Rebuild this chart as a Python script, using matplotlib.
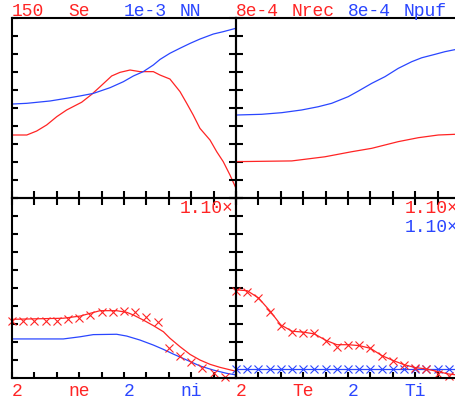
"""Four-panel profile plot (Se/NN, Nrec/Npuf, ne/ni, Te/Ti)."""

import numpy as np
import matplotlib
matplotlib.use("Agg")
import matplotlib.pyplot as plt

RED = "#ff2424"
BLUE = "#2a46ff"

# --- data (x in 0..1, y in tick divisions 0..10) ---
se_x = [0, .066, .11, .155, .2, .244, .311, .356, .393, .445, .482, .527, .571,
        .631, .661, .705, .75, .78, .809, .839, .884, .914, .943, .973, 1.0]
se_y = [3.5, 3.5, 3.72, 4.06, 4.52, 4.89, 5.32, 5.76, 6.18, 6.78, 6.98, 7.11, 7.02,
        7.02, 6.83, 6.61, 5.91, 5.26, 4.61, 3.87, 3.22, 2.57, 2.02, 1.28, 0.54]

nn_x = [0, .066, .17, .244, .304, .363, .438, .497, .542, .586, .631, .661, .705,
        .75, .795, .839, .899, .943, 1.0]
nn_y = [5.22, 5.26, 5.39, 5.54, 5.67, 5.81, 6.13, 6.46, 6.78, 7.02, 7.39, 7.7, 8.04,
        8.32, 8.59, 8.83, 9.11, 9.24, 9.43]

nrec_x = [0, .249, .397, .516, .606, .724, .814, .903, 1.0]
nrec_y = [2.02, 2.06, 2.29, 2.57, 2.76, 3.13, 3.35, 3.5, 3.55]

npuf_x = [0, .114, .204, .293, .367, .427, .501, .546, .606, .665, .724, .784,
          .829, .888, .933, 1.0]
npuf_y = [4.61, 4.65, 4.74, 4.89, 5.07, 5.26, 5.63, 5.94, 6.37, 6.74, 7.2, 7.57,
          7.79, 7.98, 8.13, 8.3]

ne_x = [0, .229, .304, .348, .393, .467, .512, .542, .586, .631, .676, .705, .75,
        .795, .839, .884, .929, .988, 1.0]
ne_y = [3.26, 3.32, 3.44, 3.59, 3.74, 3.74, 3.65, 3.5, 3.22, 2.91, 2.57, 2.21, 1.74,
        1.31, 1.0, 0.76, 0.59, 0.41, 0.35]
ne_pts = [3.18, 3.18, 3.18, 3.18, 3.18, 3.28, 3.35, 3.5, 3.65, 3.65,
          3.74, 3.65, 3.41, 3.13, 1.65, 1.22, 0.91, 0.54, 0.26, 0.07]

ni_x = [0, .229, .304, .363, .467, .512, .571, .631, .676, .72, .78, .839, .899,
        .958, 1.0]
ni_y = [2.17, 2.17, 2.29, 2.41, 2.43, 2.33, 2.11, 1.83, 1.59, 1.33, 1.0, 0.67, 0.44,
        0.26, 0.17]

te_x = [0, .05, .1, .15, .2, .25, .3, .35, .4, .45, .5, .55, .6, .65, .7, .75,
        .8, .85, .9, .95, 1.0]
te_y = [4.9, 4.85, 4.45, 3.75, 2.95, 2.6, 2.55, 2.45, 2.1, 1.85, 1.85, 1.8,
        1.65, 1.25, 0.98, 0.74, 0.58, 0.5, 0.36, 0.22, 0.15]
te_pts = [4.85, 4.79, 4.43, 3.68, 2.89, 2.57, 2.52, 2.48, 2.07, 1.74,
          1.83, 1.83, 1.65, 1.22, 0.96, 0.72, 0.57, 0.48, 0.22, 0.11]

ti_y = [0.48] * 21
ti_pts = [0.48] * 20

pts_x = [i * 0.05 for i in range(20)]

top_labels = [("150", RED), ("Se", RED), ("1e-3", BLUE), ("NN", BLUE),
              ("8e-4", RED), ("Nrec", RED), ("8e-4", BLUE), ("Npuf", BLUE)]
bottom_labels = [("2", RED), ("ne", RED), ("2", BLUE), ("ni", BLUE),
                 ("2", RED), ("Te", RED), ("2", BLUE), ("Ti", BLUE)]

W, H = 456, 403
fig = plt.figure(figsize=(W / 100, H / 100), dpi=100)
plt.rcParams["font.family"] = "Liberation Mono"


def px_axes(left, top, w, h):
    return fig.add_axes([left / W, 1 - (top + h) / H, w / W, h / H])


def style(ax, left_dir, bottom_dir):
    ax.set_xlim(0, 1)
    ax.set_ylim(0, 10)
    ax.set_xticks(np.arange(0, 1.01, 0.1))
    ax.set_yticks(np.arange(0, 11, 1))
    ax.set_xticklabels([])
    ax.set_yticklabels([])
    for s in ax.spines.values():
        s.set_linewidth(1.5)
    ax.tick_params(axis="y", direction=left_dir, width=1.5,
                   length=10 if left_dir == "inout" else 4)
    ax.tick_params(axis="x", direction=bottom_dir, width=1.5,
                   length=10 if bottom_dir == "inout" else 4)
    ax.patch.set_alpha(0)


ax_tl = px_axes(12, 18, 224, 180)
ax_tr = px_axes(236, 18, 224, 180)
ax_bl = px_axes(12, 198, 224, 180)
ax_br = px_axes(236, 198, 224, 180)
style(ax_tl, "in", "inout")
style(ax_tr, "inout", "inout")
style(ax_bl, "in", "in")
style(ax_br, "inout", "in")

lw = 0.9
ax_tl.plot(se_x, se_y, color=RED, lw=lw)
ax_tl.plot(nn_x, nn_y, color=BLUE, lw=lw)
ax_tr.plot(nrec_x, nrec_y, color=RED, lw=lw)
ax_tr.plot(npuf_x, npuf_y, color=BLUE, lw=lw)

ms = 6
ax_bl.plot(ni_x, ni_y, color=BLUE, lw=lw)
ax_bl.plot(ne_x, ne_y, color=RED, lw=lw)
ax_bl.plot(pts_x, ne_pts, "x", color=RED, ms=ms, mew=0.8, clip_on=False)

ax_br.plot(te_x, ti_y, color=BLUE, lw=lw)
ax_br.plot(pts_x, ti_pts, "x", color=BLUE, ms=ms, mew=0.8, clip_on=False)
ax_br.plot(te_x, te_y, color=RED, lw=lw)
ax_br.plot(pts_x, te_pts, "x", color=RED, ms=ms, mew=0.8, clip_on=False)

fs = 13
for i, (txt, c) in enumerate(top_labels):
    fig.text((12 + 56 * i) / W, 1 - 15.5 / H, txt, color=c, fontsize=fs,
             va="baseline", ha="left")
for i, (txt, c) in enumerate(bottom_labels):
    fig.text((12 + 56 * i) / W, 1 - 395.5 / H, txt, color=c, fontsize=fs,
             va="baseline", ha="left")

fig.text(180 / W, 1 - 213.5 / H, "1.10×", color=RED, fontsize=fs, va="baseline")
fig.text(405 / W, 1 - 213.5 / H, "1.10×", color=RED, fontsize=fs, va="baseline")
fig.text(405 / W, 1 - 232.5 / H, "1.10×", color=BLUE, fontsize=fs, va="baseline")

fig.savefig("out.png", dpi=100)
